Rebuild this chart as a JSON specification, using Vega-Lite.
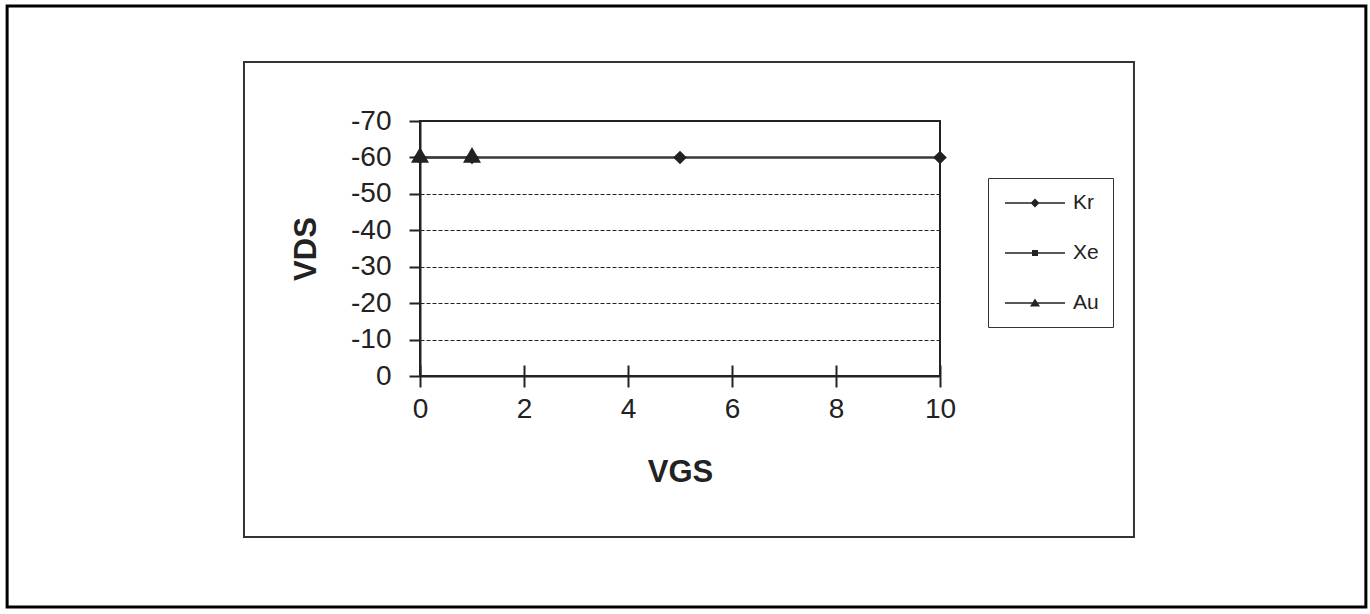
{
  "$schema": "https://vega.github.io/schema/vega-lite/v6.json",
  "width": 520,
  "height": 255,
  "autosize": {"type": "none"},
  "padding": {"left": 420, "top": 121, "right": 430, "bottom": 238},
  "background": "white",
  "config": {
    "font": "Liberation Sans",
    "view": {"stroke": "#222", "strokeWidth": 2}
  },
  "datasets": {
    "series": [
      {"series": "Kr", "VGS": 0, "VDS": -60},
      {"series": "Kr", "VGS": 1, "VDS": -60},
      {"series": "Kr", "VGS": 5, "VDS": -60},
      {"series": "Kr", "VGS": 10, "VDS": -60},
      {"series": "Xe", "VGS": 0, "VDS": -60},
      {"series": "Xe", "VGS": 1, "VDS": -60},
      {"series": "Xe", "VGS": 5, "VDS": -60},
      {"series": "Xe", "VGS": 10, "VDS": -60},
      {"series": "Au", "VGS": 0, "VDS": -60},
      {"series": "Au", "VGS": 1, "VDS": -60}
    ]
  },
  "resolve": {"axis": {"x": "independent"}, "scale": {"shape": "independent"}},
  "layer": [
    {
      "data": {"values": [{}]},
      "mark": {"type": "rect", "filled": false, "stroke": "#000", "strokeWidth": 3},
      "encoding": {
        "x": {"datum": -7.94, "type": "quantitative", "scale": {"domain": [0, 10]}, "axis": null},
        "x2": {"datum": 18.19},
        "y": {"datum": -101.6, "type": "quantitative", "scale": {"domain": [-70, 0], "reverse": true}},
        "y2": {"datum": 63.4}
      }
    },
    {
      "data": {"values": [{}]},
      "mark": {"type": "rect", "filled": false, "stroke": "#333", "strokeWidth": 2},
      "encoding": {
        "x": {"datum": -3.385, "type": "quantitative", "axis": null},
        "x2": {"datum": 13.73},
        "y": {"datum": -86.2, "type": "quantitative"},
        "y2": {"datum": 44.2}
      }
    },
    {
      "data": {"name": "series"},
      "mark": {"type": "line", "color": "#3a3a3a", "strokeWidth": 2},
      "encoding": {
        "x": {
          "field": "VGS", "type": "quantitative",
          "scale": {"domain": [0, 10], "nice": false, "zero": false},
          "axis": {
            "orient": "bottom",
            "title": "VGS", "values": [0, 2, 4, 6, 8, 10], "labelExpr": "'' + datum.value", "grid": false, "labelOverlap": false, "labelFlush": false,
            "domainColor": "#222", "domainWidth": 2, "tickColor": "#222", "tickWidth": 2, "tickSize": 11,
            "labelFontSize": 28, "labelColor": "#222", "labelPadding": 8, "labelFont": "Liberation Sans",
            "titleFontSize": 31, "titleFontWeight": "bold", "titleColor": "#222", "titlePadding": 34, "titleFont": "Liberation Sans"
          }
        },
        "y": {
          "field": "VDS", "type": "quantitative",
          "scale": {"domain": [-70, 0], "reverse": true, "nice": false},
          "axis": {
            "title": "VDS", "values": [0, -10, -20, -30, -40, -50, -60, -70], "tickCount": 20,
            "labelExpr": "'' + datum.value", "labelOverlap": false, "labelFlush": false,
            "grid": true, "gridDash": [4, 2], "gridColor": "#222", "gridWidth": 1,
            "domainColor": "#222", "domainWidth": 2, "tickColor": "#222", "tickWidth": 2, "tickSize": 11,
            "labelFontSize": 28, "labelColor": "#222", "labelPadding": 18, "labelFont": "Liberation Sans",
            "titleFontSize": 31, "titleFontWeight": "bold", "titleColor": "#222", "titlePadding": 28, "titleFont": "Liberation Sans"
          }
        },
        "detail": {"field": "series", "type": "nominal"}
      }
    },
    {
      "data": {"name": "series"},
      "mark": {"type": "point", "filled": true, "color": "#222", "opacity": 0, "size": 400},
      "encoding": {
        "x": {"field": "VGS", "type": "quantitative", "axis": null},
        "y": {"field": "VDS", "type": "quantitative"},
        "shape": {
          "field": "series", "type": "nominal",
          "scale": {"domain": ["Kr", "Xe", "Au"], "range": [
            "M-0.8,-0.075L5.2,-0.075L5.2,0.075L-0.8,0.075ZM2.2,-0.45L2.65,0L2.2,0.45L1.75,0Z",
            "M-0.8,-0.075L5.2,-0.075L5.2,0.075L-0.8,0.075ZM1.9,-0.3L2.5,-0.3L2.5,0.3L1.9,0.3Z",
            "M-0.8,-0.075L5.2,-0.075L5.2,0.075L-0.8,0.075ZM2.2,-0.45L2.7,0.35L1.7,0.35Z"
          ]},
          "legend": {
            "orient": "none", "legendX": 568, "legendY": 57, "title": null,
            "padding": 14, "strokeColor": "#333", "fillColor": "white",
            "symbolSize": 400, "symbolOpacity": 1, "symbolFillColor": "#222",
            "labelFontSize": 21, "labelColor": "#222", "labelFont": "Liberation Sans", "labelOffset": 49,
            "rowPadding": 29,
            "encode": {"legend": {"update": {"strokeWidth": {"value": 2}}}}
          }
        }
      }
    },
    {
      "data": {"name": "series"},
      "mark": {"type": "point", "filled": true, "color": "#222", "opacity": 1, "size": 400},
      "encoding": {
        "x": {
          "field": "VGS", "type": "quantitative",
          "axis": {"orient": "bottom", "values": [0, 2, 4, 6, 8, 10], "tickSize": -11, "tickColor": "#222", "tickWidth": 2, "labels": false, "domain": false, "grid": false, "title": null}
        },
        "y": {"field": "VDS", "type": "quantitative"},
        "shape": {
          "field": "series", "type": "nominal",
          "scale": {"domain": ["Kr", "Xe", "Au"], "range": ["M0,-0.68L0.68,0L0,0.68L-0.68,0Z", "M-0.3,-0.3L0.3,-0.3L0.3,0.3L-0.3,0.3Z", "M0,-1.04L0.9,0.52L-0.9,0.52Z"]},
          "legend": null
        }
      }
    }
  ]
}
